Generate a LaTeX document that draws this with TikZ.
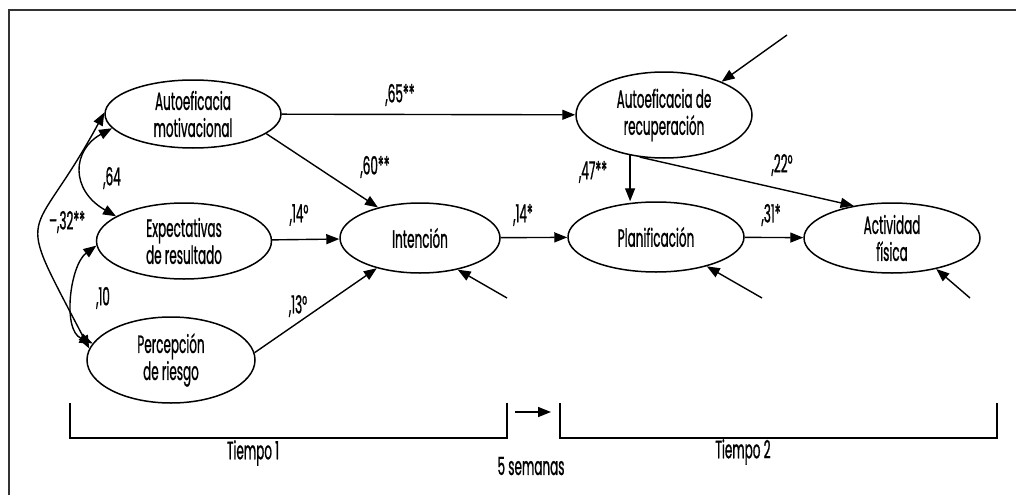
\documentclass[tikz,border=0pt]{standalone}
\usepackage{fontspec}
\setmainfont[FakeStretch=0.48,FakeBold=0.8]{Poppins}
\usetikzlibrary{arrows.meta,shapes.geometric}
\begin{document}
\begin{tikzpicture}[x=1pt,y=-1pt,line width=1.4pt,
  >={Triangle[length=13pt,width=10pt]},
  lat/.style={draw,ellipse,inner sep=0pt,align=center,line width=1.5pt,
    font=\fontsize{25}{27}\selectfont},
  lab/.style={inner sep=0pt,font=\fontsize{25}{26}\selectfont},
  bracket/.style={line width=1.5pt}]
\useasboundingbox (0,0) rectangle (1016,495);
\draw[line width=1.3pt,black!80] (9,495) -- (9,10) -- (1016,10);

% latent variables
\node[lat,minimum width=176pt,minimum height=68pt] (am) at (193,114) {Autoeficacia\\motivacional};
\node[lat,minimum width=175pt,minimum height=76pt] (er) at (184,241) {Expectativas\\de resultado};
\node[lat,minimum width=168pt,minimum height=86pt] (pr) at (171,360) {Percepción\\de riesgo};
\node[lat,minimum width=160pt,minimum height=70pt] (in) at (420,238) {Intención};
\node[lat,minimum width=176pt,minimum height=86pt] (ar) at (664,115) {Autoeficacia de\\recuperación};
\node[lat,minimum width=176pt,minimum height=70pt] (pl) at (656,237) {Planificación};
\node[lat,minimum width=176pt,minimum height=70pt] (af) at (892,238) {Actividad\\física};

% error terms
\coordinate (e1) at (787,35);
\coordinate (e2) at (507,298);
\coordinate (e3) at (762,298);
\coordinate (e4) at (970,298);

% paths
\draw[->] (am) -- (ar);
\draw[->] (am.-15) -- (in.144);
\draw[->] (er) -- (in);
\draw[->] (pr.5) -- (in.215);
\draw[->] (in) -- (pl);
\draw[->] (pl) -- (af);
\draw[->] (ar.230) -- (ar.230 |- pl.north);
\draw[->] (ar.240) -- (af.140);
\draw[->] (e1) -- (ar.30);
\draw[->] (e2) -- (in.-40);
\draw[->] (e3) -- (pl.-30);
\draw[->] (e4) -- (af.-35);

% correlations
\draw[<->] (am.190) .. controls (72,150) and (70,190) .. (er.160);
\draw[<->] (er.183) .. controls (70,265) and (62,330) .. (pr.168);
\draw[<->] (am.179) .. controls (30,250) and (12,200) .. (pr.172);

% coefficient labels
\node[lab] (l65) at (400,95) {,65**};
\node[lab] (l60) at (375,167) {,60**};
\node[lab] (l64) at (112,178) {,64};
\node[lab] (l32) at (67,222) {–,32**};
\node[lab] (l14a) at (299,215) {,14°};
\node[lab] (l10) at (103,298) {,10};
\node[lab] (l13) at (298,306) {,13°};
\node[lab] (l14b) at (523,215) {,14*};
\node[lab] (l47) at (593,172) {,47**};
\node[lab] (l22) at (782,165) {,22°};
\node[lab] (l31) at (771,215) {,31*};

% time brackets
\coordinate (b1a) at (70,403);
\coordinate (b1b) at (507,403);
\coordinate (b2a) at (560,403);
\coordinate (b2b) at (997,403);
\draw[bracket] (b1a) -- ++(0,35) -| (b1b);
\draw[bracket] (b2a) -- ++(0,35) -| (b2b);
\coordinate (w1) at (515,412);
\coordinate (w2) at (551,412);
\draw[->,line width=1.5pt] (w1) -- (w2);
\node[lab] (t1) at (253,453) {Tiempo 1};
\node[lab] (t2) at (743,452) {Tiempo 2};
\node[lab] (sem) at (531,466) {5 semanas};
\end{tikzpicture}
\end{document}
